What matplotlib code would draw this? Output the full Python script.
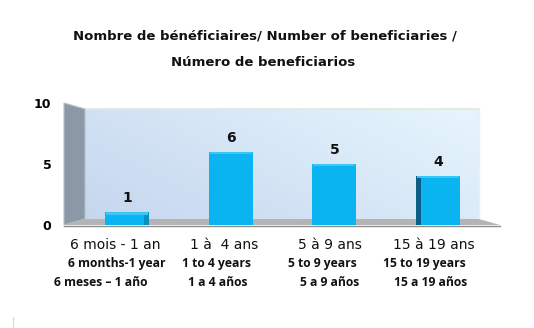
import numpy as np
import matplotlib
matplotlib.use("Agg")
import matplotlib.pyplot as plt
from matplotlib.patches import Polygon
from matplotlib.colors import LinearSegmentedColormap

# Data
labels_fr = ["6 mois - 1 an", "1 à  4 ans", "5 à 9 ans", "15 à 19 ans"]
labels_en = ["6 months-1 year", "1 to 4 years", "5 to 9 years", "15 to 19 years"]
labels_es = ["6 meses \u2013 1 año", "1 a 4 años", "5 a 9 años", "15 a 19 años"]
values = [1, 6, 5, 4]
yticks = [0, 5, 10]
title_l1 = "Nombre de bénéficiaires/ Number of beneficiaries /"
title_l2 = "Número de beneficiarios"

W, H = 534, 328
fig = plt.figure(figsize=(W / 100, H / 100), dpi=100)
fig.patch.set_facecolor("white")

# Background layer in pixel coordinates for the 3D box
bg = fig.add_axes([0, 0, 1, 1], zorder=0)
bg.set_xlim(0, W)
bg.set_ylim(H, 0)
bg.axis("off")

# back wall gradient
wall_cmap = LinearSegmentedColormap.from_list("wall", ["#c6d6ee", "#d6e6f6", "#e6f5fd"])
gx, gy = np.meshgrid(np.linspace(0, 1, 200), np.linspace(0, 1, 100))
grad = 0.65 * gx + 0.35 * (1 - gy)
bg.imshow(grad, cmap=wall_cmap, extent=(85, 479, 219, 109), aspect="auto",
          interpolation="bilinear", zorder=1)
bg.plot([85, 479], [109, 109], color="#e8e4dc", lw=1.2, zorder=2)
bg.plot([479, 479], [109, 219], color="#eeeeee", lw=1.0, zorder=2)

# left side wall
bg.add_patch(Polygon([(64, 103), (85, 109), (85, 219), (64, 225)], closed=True,
                     facecolor="#8a98a8", edgecolor="#b9c0c8", lw=0.8, zorder=2))
# floor
bg.add_patch(Polygon([(64, 225), (85, 219), (479, 219), (500, 225)], closed=True,
                     facecolor="#b4b4b4", edgecolor="none", zorder=2))
bg.plot([64, 500], [225.5, 225.5], color="#8c8c8c", lw=1.0, zorder=3)
# small mark at lower left
bg.plot([13, 13], [317, 328], color="#d8d8d8", lw=0.8, zorder=2)

# Main axes aligned with the front plane of the box
x0_px, x1_px = 64, 500
y0_px, y1_px = 224.5, 103
ax = fig.add_axes([x0_px / W, 1 - y0_px / H, (x1_px - x0_px) / W, (y0_px - y1_px) / H], zorder=2)
ax.patch.set_alpha(0)
for s in ax.spines.values():
    s.set_visible(False)
ax.set_xlim(-0.608, 3.598)
ax.set_ylim(0, 10)

x = np.arange(len(values))
bw = 0.425
ax.bar(x, values, width=bw, color="#0ab4f1", edgecolor="none", zorder=3)
# darker side faces and lighter top caps
side = 0.05
center = (len(values) - 1) / 2
for xi, v in zip(x, values):
    if xi < center - 1:
        ax.bar(xi + bw / 2 - side / 2, v, width=side, color="#0a8fc2", edgecolor="none", zorder=4)
    elif xi > center + 1:
        ax.bar(xi - bw / 2 + side / 2, v, width=side, color="#0b5f86", edgecolor="none", zorder=4)
    ax.bar(xi, 0.18, bottom=v - 0.18, width=bw * 0.96, color="#3cc6f6", edgecolor="none", zorder=4)
    ax.annotate(str(v), (xi, v), xytext=(0, 5), textcoords="offset points",
                ha="center", va="bottom", fontsize=10, fontweight="bold",
                family="DejaVu Sans", color="#111111")

ax.set_yticks(yticks)
ax.set_yticklabels([str(t) for t in yticks], fontsize=9, fontweight="bold", family="DejaVu Sans")
ax.tick_params(axis="y", length=0, pad=9)
ax.set_xticks([])

# Category labels in three languages
fr_x = [115, 224, 330, 434]
en_x = [117, 217, 322, 424]
es_x = [101, 218, 330, 431]
for i in range(len(values)):
    fig.text(fr_x[i] / W, 1 - 245 / H, labels_fr[i], ha="center", va="center",
             fontsize=10, family="DejaVu Sans", color="#111111")
    fig.text(en_x[i] / W, 1 - 264 / H, labels_en[i], ha="center", va="center",
             fontsize=8.7, fontweight="bold", family="Open Sans", color="#111111")
    fig.text(es_x[i] / W, 1 - 283 / H, labels_es[i], ha="center", va="center",
             fontsize=8.7, fontweight="bold", family="Open Sans", color="#111111")

fig.text(265 / W, 1 - 36 / H, title_l1, ha="center", va="center",
         fontsize=9.5, fontweight="bold", family="DejaVu Sans", color="#111111")
fig.text(263 / W, 1 - 62 / H, title_l2, ha="center", va="center",
         fontsize=9.5, fontweight="bold", family="DejaVu Sans", color="#111111")

fig.savefig("out.png", dpi=100, facecolor="white")
